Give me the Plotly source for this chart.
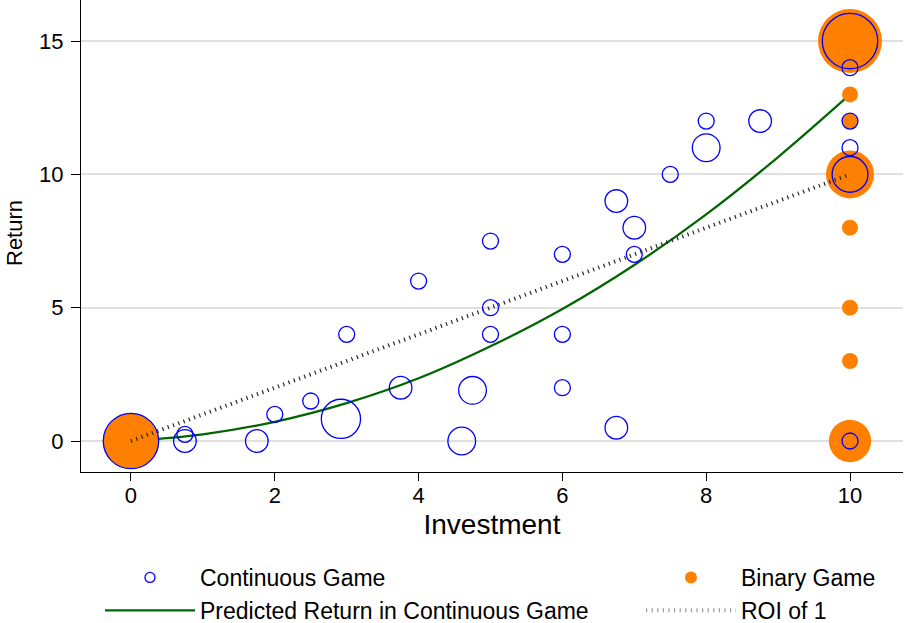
import plotly.graph_objects as go

# Continuous game: investment, return, number of subjects at that point
cont_invest = [0, 0.75, 0.75, 1.75, 2, 2.5, 2.92, 3, 3.75, 4, 4.6, 4.75, 5, 5, 5,
               6, 6, 6, 6.75, 6.75, 7, 7, 7.5, 8, 8, 8.75, 10, 10, 10, 10, 10, 10]
cont_return = [0, 0.25, 0, 0, 1, 1.5, 0.83, 4, 2, 6, 0, 1.9, 7.5, 5, 4,
               7, 4, 2, 9, 0.5, 8, 7, 10, 12, 11, 12, 15, 14, 12, 11, 10, 0]
cont_count = [12, 1, 2, 2, 1, 1, 6, 1, 2, 1, 3, 3, 1, 1, 1,
              1, 1, 1, 2, 2, 2, 1, 1, 1, 3, 2, 12, 1, 1, 1, 5, 1]

# Binary game: investment, return, number of subjects
bin_invest = [0, 10, 10, 10, 10, 10, 10, 10, 10]
bin_return = [0, 15, 13, 12, 10, 8, 5, 3, 0]
bin_count = [12, 16, 1, 1, 9, 1, 1, 1, 7]

# Predicted return in the continuous game
pred_invest = [0, 1, 2, 3, 4, 5, 6, 7, 8, 9, 10]
pred_return = [0, 0.25, 0.72, 1.42, 2.35, 3.55, 4.95, 6.6, 8.5, 10.65, 13.0]

# Return on investment of one
roi_invest = [0, 10]
roi_return = [0, 10]

x_ticks = [0, 2, 4, 6, 8, 10]
y_ticks = [0, 5, 10, 15]

BLUE = "#0000ff"
ORANGE = "#ff7f00"
GREEN = "#006400"
ROI_COLOR = "#2a2a2a"
ROI_DASH = "1.2px,4.4px"
SIZEREF = 2.0 / 16 ** 2  # one subject -> 16 px marker

FONT = "Liberation Sans, Arial, Helvetica, sans-serif"

fig = go.Figure()

fig.add_trace(go.Scatter(
    x=pred_invest, y=pred_return, mode="lines",
    line=dict(color=GREEN, width=2.2, shape="spline"),
    showlegend=False, hoverinfo="skip"))

fig.add_trace(go.Scatter(
    x=bin_invest, y=bin_return, mode="markers",
    marker=dict(size=bin_count, sizemode="area", sizeref=SIZEREF,
                color=ORANGE, opacity=1, line=dict(width=0)),
    showlegend=False))

fig.add_trace(go.Scatter(
    x=cont_invest, y=cont_return, mode="markers",
    marker=dict(size=cont_count, sizemode="area", sizeref=SIZEREF, opacity=1,
                color="rgba(0,0,0,0)", line=dict(color=BLUE, width=1.3)),
    showlegend=False))

fig.add_trace(go.Scatter(
    x=roi_invest, y=roi_return, mode="lines",
    line=dict(color=ROI_COLOR, width=4, dash=ROI_DASH),
    showlegend=False, hoverinfo="skip"))

# legend keys
fig.add_trace(go.Scatter(
    x=[None], y=[None], mode="markers", name="Continuous Game",
    marker=dict(size=10, color="rgba(0,0,0,0)", line=dict(color=BLUE, width=1.3)),
    legend="legend", legendrank=1))
fig.add_trace(go.Scatter(
    x=[None], y=[None], mode="lines", name="Predicted Return in Continuous Game",
    line=dict(color=GREEN, width=2.2),
    legend="legend", legendrank=2))
fig.add_trace(go.Scatter(
    x=[None], y=[None], mode="markers", name="Binary Game",
    marker=dict(size=12, color=ORANGE, line=dict(width=0)),
    legend="legend2", legendrank=1))
fig.add_trace(go.Scatter(
    x=[None], y=[None], mode="lines", name="ROI of 1",
    line=dict(color="#9a9a9a", width=4, dash=ROI_DASH),
    legend="legend2", legendrank=2))

legend_common = dict(
    xref="container", yref="container", xanchor="left", yanchor="top",
    orientation="v", itemwidth=90, bgcolor="rgba(0,0,0,0)", borderwidth=0,
    font=dict(family=FONT, size=23, color="black"), traceorder="normal",
    itemclick=False, itemdoubleclick=False)

fig.update_layout(
    width=904, height=623,
    margin=dict(l=81, r=1, t=0, b=151, autoexpand=False),
    paper_bgcolor="white", plot_bgcolor="white",
    font=dict(family=FONT, color="black"),
    legend=dict(x=100 / 904, y=1 - 556 / 623, **legend_common),
    legend2=dict(x=641 / 904, y=1 - 556 / 623, **legend_common),
    xaxis=dict(
        range=[-0.695, 10.737], tickvals=x_ticks, showgrid=False, zeroline=False,
        showline=True, linecolor="black", linewidth=1.3,
        ticks="outside", ticklen=8, tickwidth=1.3, tickcolor="black",
        tickfont=dict(family=FONT, size=22, color="black"),
        ticklabelstandoff=-5,
        title=dict(text="Investment", font=dict(family=FONT, size=28, color="black"),
                   standoff=7)),
    yaxis=dict(
        range=[-1.1625, 16.54], tickvals=y_ticks, showgrid=True,
        gridcolor="#e0e0e0", gridwidth=1.6, zeroline=False,
        showline=True, linecolor="black", linewidth=1.3,
        ticks="outside", ticklen=9, tickwidth=1.3, tickcolor="black",
        tickfont=dict(family=FONT, size=22, color="black"),
        ticklabelstandoff=3),
    annotations=[dict(
        text="Return", textangle=-90, showarrow=False,
        xref="paper", yref="paper", x=(14 - 81) / 822, y=(472 - 233) / 472,
        xanchor="center", yanchor="middle",
        font=dict(family=FONT, size=22, color="black"))],
)

fig.write_html("out.html")
